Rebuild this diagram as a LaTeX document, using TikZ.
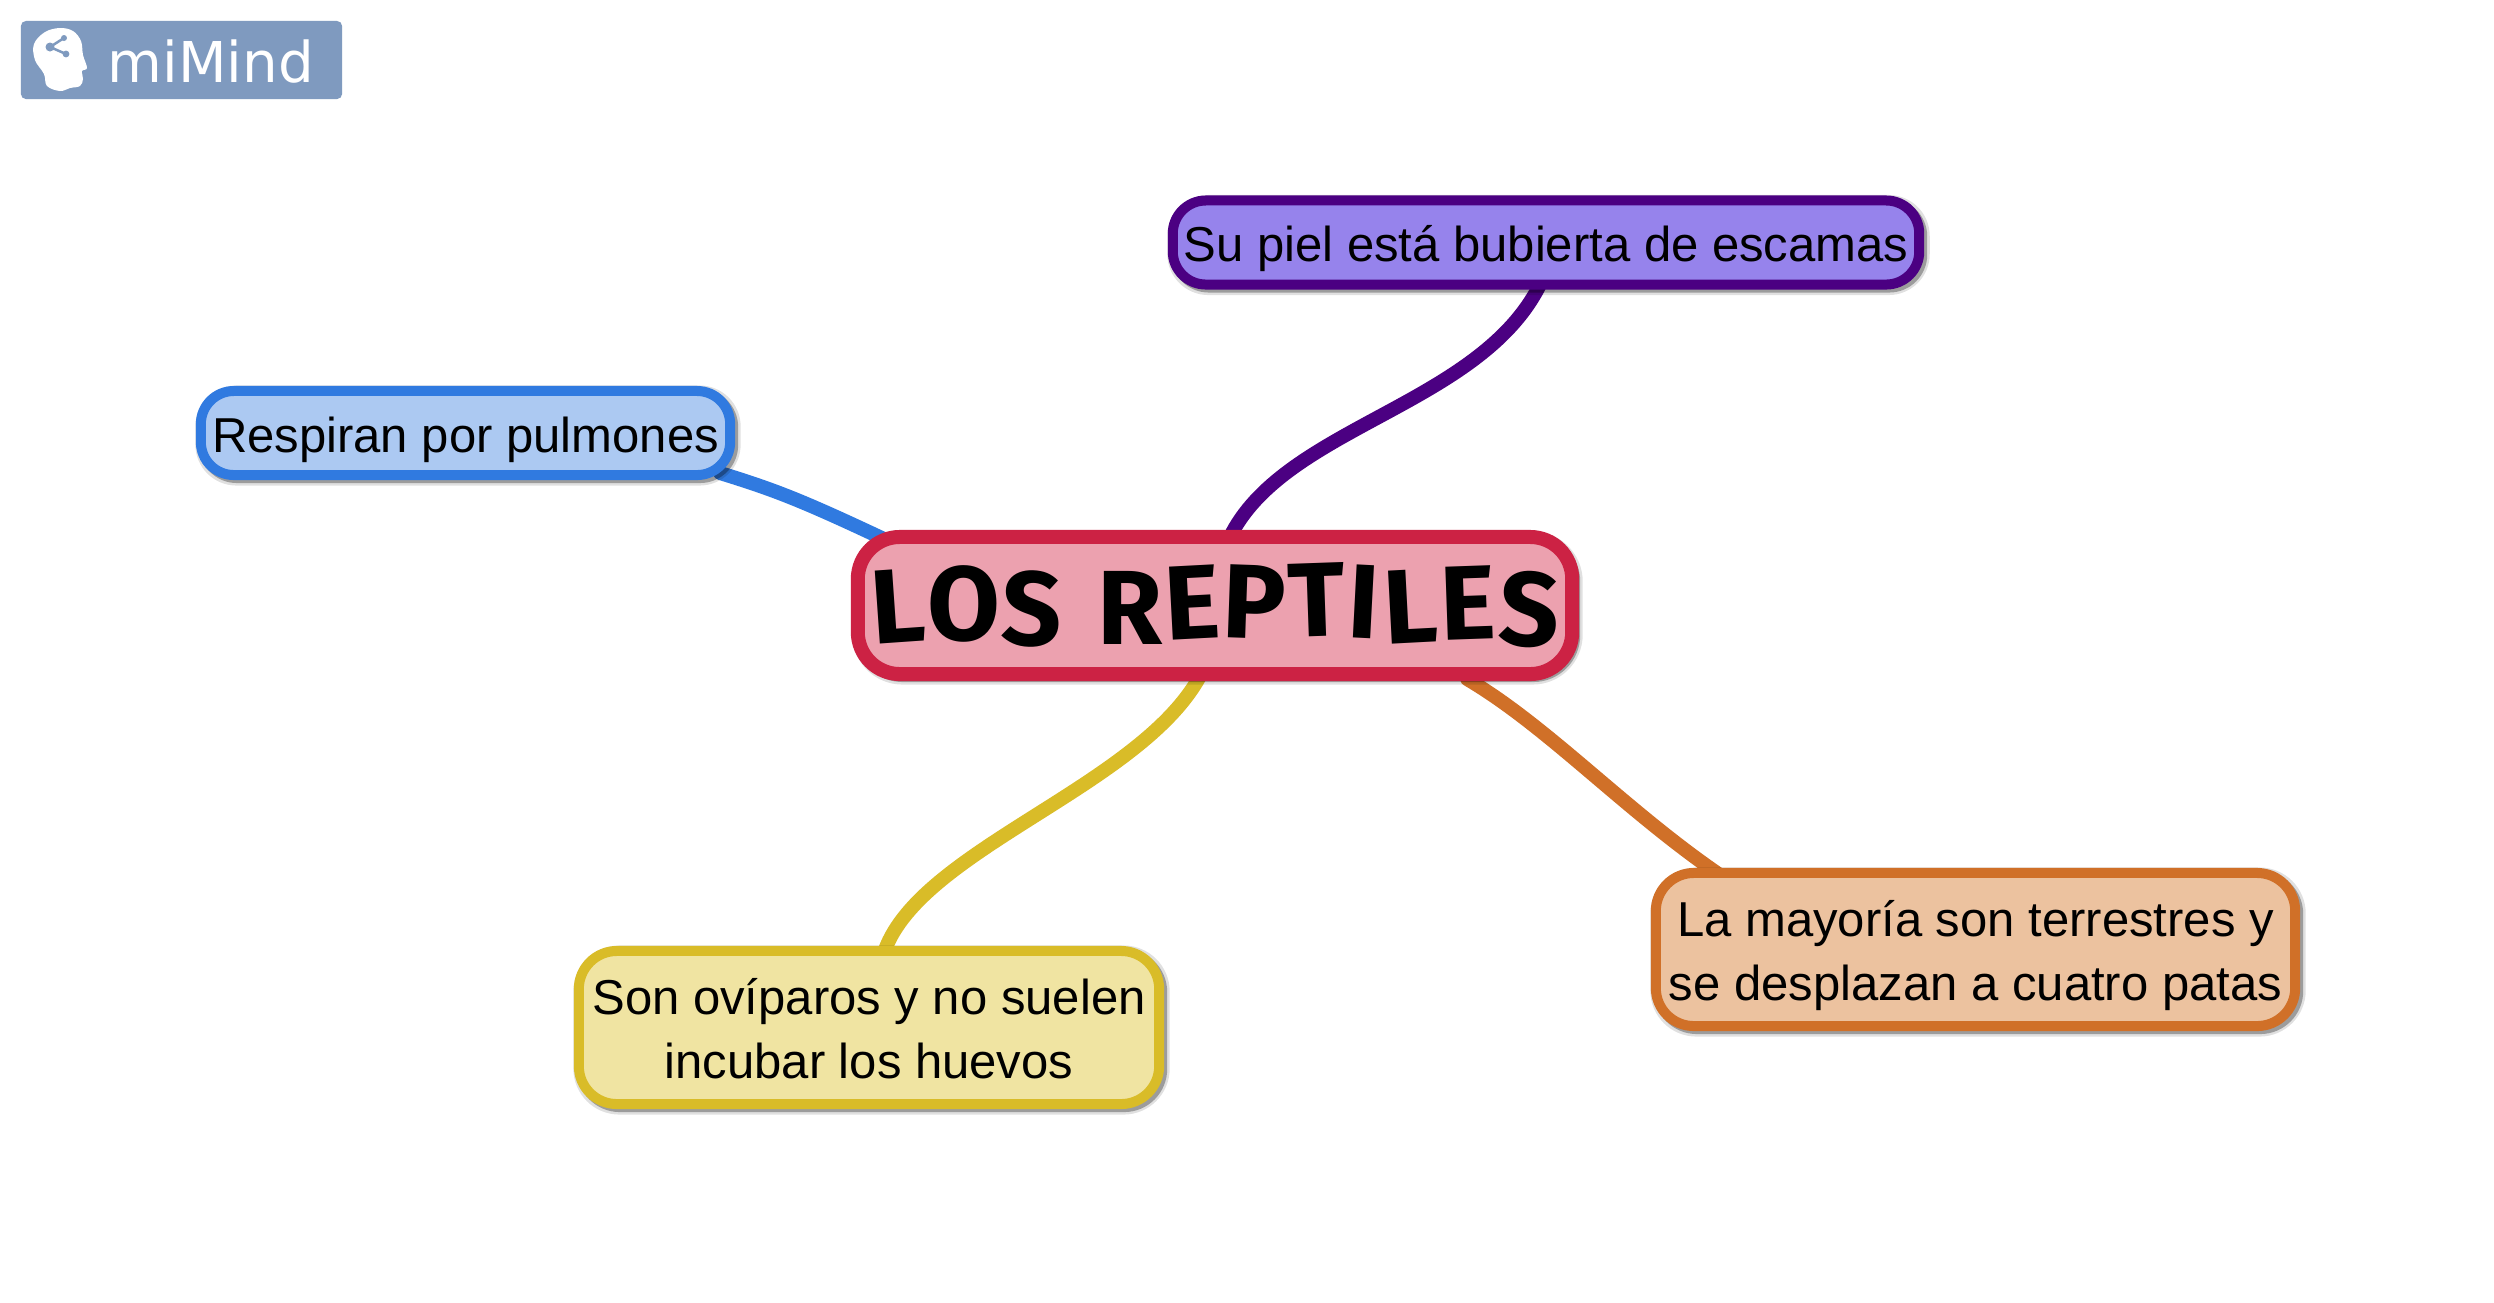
\documentclass[tikz,border=0pt]{standalone}
\usepackage{fontspec}
\setmainfont{Liberation Sans}
\newfontfamily\logofont{DejaVu Sans}
\newfontfamily\titlefont{Fira Sans Bold}
\usetikzlibrary{shadows,calc,backgrounds}
\definecolor{cPur}{HTML}{4B0082}\definecolor{fPur}{HTML}{9683EC}
\definecolor{cBlu}{HTML}{307AE0}\definecolor{fBlu}{HTML}{ACC9F2}
\definecolor{cRed}{HTML}{CC2244}\definecolor{fRed}{HTML}{ECA1AF}
\definecolor{cYel}{HTML}{D9BC28}\definecolor{fYel}{HTML}{F0E4A2}
\definecolor{cOra}{HTML}{D07028}\definecolor{fOra}{HTML}{ECC29F}
\definecolor{cLogo}{HTML}{7F9ABF}
\newcommand{\rl}[3]{\raisebox{#2pt}{\rotatebox{#1}{#3}}}
\newcommand{\tl}[1]{\raisebox{0pt}[\dimexpr\height+3.6pt\relax]{\begin{tabular}{@{}c@{}}#1\end{tabular}}}
\tikzset{
  x=0.01cm,y=-0.01cm,
  softshadow/.style={
    general shadow={shadow xshift=0.025cm,shadow yshift=-0.025cm,fill=black,opacity=.12,draw=black,draw opacity=.12,line width=0.16cm},
    general shadow={shadow xshift=0.03cm,shadow yshift=-0.03cm,fill=black,opacity=.30,draw=black,draw opacity=.30,line width=0.1cm}},
  topic/.style={draw,rectangle,rounded corners=0.33cm,line width=0.1cm,inner sep=0pt,align=center,
    font=\fontsize{13.94}{18.2}\selectfont,text=black,softshadow},
  bigtopic/.style={topic,rounded corners=0.38cm},
  link/.style={line width=0.14cm,line cap=round},
}
\begin{document}
\begin{tikzpicture}
\useasboundingbox (0,0) rectangle (2494,1302);
% logo
\node[fill=cLogo,rounded corners=0.05cm,minimum width=3.21cm,minimum height=0.78cm,inner sep=0pt] (logo) at (181.5,60) {};
\node[text=white,inner sep=0pt,anchor=base west,font=\logofont\fontsize{16}{16}\selectfont] (logotext) at (107,82) {miMind};
\fill[white] plot[smooth cycle,tension=.6] coordinates {(35,60) (34,44) (45,32) (60,28) (73,31) (81,41) (83,55) (87,68) (82,71) (83,79) (80,86) (70,88) (60,91) (47,86) (44,74)};
\draw[cLogo,line width=0.025cm] (64,38) -- (50,47) -- (66,54);
\fill[cLogo] (50,47) circle (4.5) (66,54) circle (3.4) (64,38) circle (3);
% nodes
\node[topic,draw=cRed,fill=fRed,line width=0.14cm,rounded corners=0.42cm,minimum width=7.14cm,minimum height=1.37cm] (cen) at (1215,605.5)
  {\titlefont\fontsize{30}{30}\selectfont \rl{4}{0}{L}\rl{0}{1}{O}\rl{-2}{0}{S}\hspace{0.32em}\rl{0}{0}{R}\rl{3}{1}{E}\rl{-2}{2}{P}\rl{2}{2}{T}\rl{-3}{2}{I}\rl{3}{0}{L}\rl{2}{1}{E}\rl{-3}{0}{S}};
\node[topic,draw=cPur,fill=fPur,minimum width=7.46cm,minimum height=0.84cm] (pur) at (1546,242.5) {\tl{Su piel está bubierta de escamas}};
\node[topic,draw=cBlu,fill=fBlu,minimum width=5.29cm,minimum height=0.84cm] (blu) at (465.5,433) {\tl{Respiran por pulmones}};
\node[bigtopic,draw=cOra,fill=fOra,minimum width=6.39cm,minimum height=1.53cm] (ora) at (1975.5,949.5) {\tl{La mayoría son terrestres y\\se desplazan a cuatro patas}};
\node[bigtopic,draw=cYel,fill=fYel,minimum width=5.8cm,minimum height=1.53cm] (yel) at (869,1027.5) {\tl{Son ovíparos y no suelen\\incubar los huevos}};
% connectors
\begin{scope}[on background layer]
\fill[white] (0,0) rectangle (2494,1302);
\draw[link,cPur] ($(pur.south)+(-6,-5)$) .. controls ($(pur.south)+(-66,115)$) and ($(cen.north)+(74,-104)$) .. ($(cen.north)+(17,3)$);
\draw[link,cBlu] ($(blu.south east)+(-15,-7)$) .. controls ($(blu.south east)+(40,10)$) and ($(cen.north west)+(-50,-30)$) .. ($(cen.north west)+(33,9)$);
\draw[link,cYel] ($(cen.south)+(-15,-5)$) .. controls ($(cen.south)+(-75,105)$) and ($(yel.north)+(53,-97)$) .. ($(yel.north)+(16,4)$);
\draw[link,cOra] ($(cen.south east)+(-112,-2)$) .. controls ($(cen.south east)+(-32,45)$) and ($(ora.north west)+(-26,-58)$) .. ($(ora.north west)+(69,7)$);
\end{scope}
\end{tikzpicture}
\end{document}
